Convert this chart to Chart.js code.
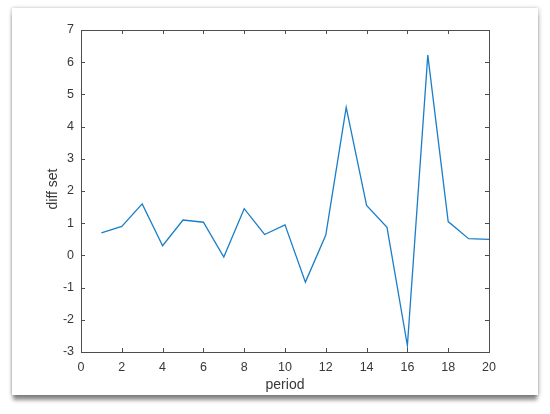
<!DOCTYPE html>
<html>
<head>
<meta charset="utf-8">
<script src="https://cdn.jsdelivr.net/npm/chart.js@4/dist/chart.umd.min.js"></script>
<style>
  html,body{margin:0;padding:0;background:#fff;}
  #wrap{position:relative;width:550px;height:414px;overflow:hidden;}
  #card{position:absolute;left:12px;top:8px;width:526px;height:387px;background:#fff;
        box-shadow:0 6px 4px -1px rgba(0,0,0,0.45), -1px 0 3px rgba(0,0,0,0.18), 2px 0 4px rgba(0,0,0,0.12);}
  #c{position:absolute;left:0;top:0;}
</style>
</head>
<body>
<div id="wrap">
  <div id="card"></div>
  <canvas id="c" width="550" height="414"></canvas>
</div>
<script>
// data
const periods = [1,2,3,4,5,6,7,8,9,10,11,12,13,14,15,16,17,18,19,20];
const diffSet = [0.70,0.90,1.60,0.30,1.10,1.03,-0.05,1.45,0.65,0.95,-0.83,0.63,4.60,1.55,0.87,-2.80,6.22,1.05,0.52,0.50];
const xTicks = [0,2,4,6,8,10,12,14,16,18,20];
const yTicks = [-3,-2,-1,0,1,2,3,4,5,6,7];
const xLabel = "period";
const yLabel = "diff set";

const AXC = "#4d4d4d";
const TXC = "#383838";
const FONT = "'Liberation Sans', Arial, Helvetica, sans-serif";

// MATLAB-like box with inward ticks on all sides + axis labels
const boxPlugin = {
  id:"box",
  afterDraw(chart){
    const {ctx, chartArea:a, scales:{x,y}} = chart;
    ctx.save();
    ctx.strokeStyle = AXC;
    ctx.lineWidth = 1;
    ctx.strokeRect(Math.round(a.left)+0.5, Math.round(a.top)+0.5,
                   Math.round(a.right-a.left), Math.round(a.bottom-a.top));
    const tl = 4;
    ctx.beginPath();
    for (const v of xTicks){
      const px = Math.round(x.getPixelForValue(v))+0.5;
      ctx.moveTo(px, a.bottom); ctx.lineTo(px, a.bottom-tl);
      ctx.moveTo(px, a.top); ctx.lineTo(px, a.top+tl);
    }
    for (const v of yTicks){
      const py = Math.round(y.getPixelForValue(v))+0.5;
      ctx.moveTo(a.left, py); ctx.lineTo(a.left+tl, py);
      ctx.moveTo(a.right, py); ctx.lineTo(a.right-tl, py);
    }
    ctx.stroke();

    ctx.fillStyle = TXC;
    ctx.font = "14px " + FONT;
    ctx.textAlign = "center";
    ctx.textBaseline = "middle";
    ctx.fillText(xLabel, (a.left+a.right)/2, 385);
    ctx.translate(53, 189);
    ctx.rotate(-Math.PI/2);
    ctx.fillText(yLabel, 0, 0);
    ctx.restore();
  }
};

new Chart(document.getElementById("c"), {
  type:"line",
  data:{
    datasets:[{
      data: periods.map((p,i)=>({x:p, y:diffSet[i]})),
      borderColor:"#1a7fc8",
      borderWidth:1.3,
      pointRadius:0,
      tension:0,
      fill:false
    }]
  },
  options:{
    responsive:false,
    animation:false,
    devicePixelRatio:1,
    layout:{padding:{top:30, right:61, left:0, bottom:0}},
    plugins:{legend:{display:false}, tooltip:{enabled:false}},
    scales:{
      x:{
        type:"linear", min:0, max:20,
        afterBuildTicks(s){ s.ticks = xTicks.map(v=>({value:v})); },
        afterFit(s){ s.height = 62; },
        grid:{display:false, drawTicks:false},
        border:{display:false},
        ticks:{color:TXC, padding:8, maxRotation:0, font:{size:12.5, family:FONT}}
      },
      y:{
        type:"linear", min:-3, max:7,
        afterBuildTicks(s){ s.ticks = yTicks.map(v=>({value:v})); },
        afterFit(s){ s.width = 81; },
        grid:{display:false, drawTicks:false},
        border:{display:false},
        ticks:{color:TXC, padding:7, font:{size:12.5, family:FONT}}
      }
    }
  },
  plugins:[boxPlugin]
});
</script>
</body>
</html>
